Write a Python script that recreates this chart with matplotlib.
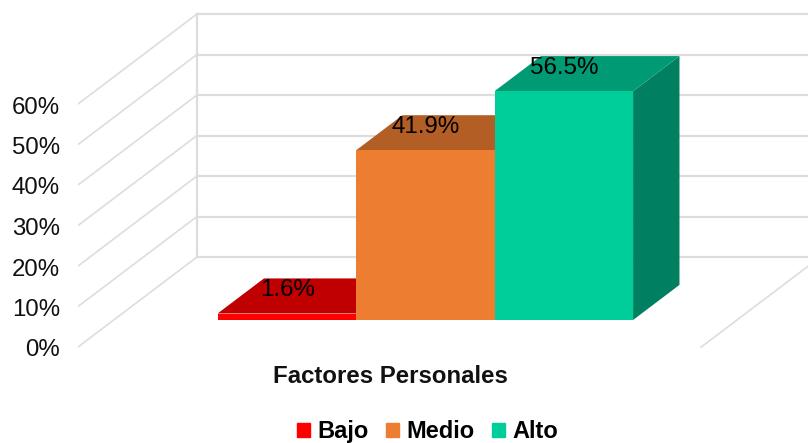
import matplotlib
matplotlib.use('Agg')
import matplotlib.pyplot as plt
import matplotlib.ticker as mticker
from matplotlib.patches import Patch
from matplotlib.transforms import ScaledTranslation

plt.rcParams['font.family'] = ['Liberation Sans', 'DejaVu Sans']

categories = ['Bajo', 'Medio', 'Alto']
values = [1.6, 41.9, 56.5]
ticks = [0, 10, 20, 30, 40, 50, 60]
xlabel = 'Factores Personales'

front_colors = ['#FF0000', '#ED7D31', '#00CE9A']
top_colors = ['#C00000', '#B35E25', '#009B74']
side_colors = ['#A00000', '#9A5220', '#008060']
grid_color = '#DDDDDD'

W, H = 808, 443
fig = plt.figure(figsize=(W / 100, H / 100), dpi=100)
ax = fig.add_axes([78 / W, 0, (W - 78) / W, 1])

# Escala: una categoria = 138.5 px, 1% = 4.05 px
ax.set_xlim(-0.75, -0.75 + (W - 78) / 138.5)
ax.set_ylim(-(H - 347) / 4.05, 347 / 4.05)

# Profundidad oblicua del "3D"
depth_x = 119 / 138.5
depth_y = 90 / 4.05
bar_front = 0.30
bar_back = 0.69


def proj(x, v, d):
    return x + d * depth_x, v + d * depth_y


# Paredes
x_left, x_right = -0.75, 3.75
for t in ticks:
    a = proj(x_left, t, 0)
    b = proj(x_left, t, 1)
    c = proj(x_right, t, 1)
    ax.plot([a[0], b[0]], [a[1], b[1]], color=grid_color, lw=1.2, zorder=1)
    ax.plot([b[0], c[0]], [b[1], c[1]], color=grid_color, lw=1.6, zorder=1)
a = proj(x_left, 0, 1)
b = proj(x_left, ticks[-1], 1)
ax.plot([a[0], b[0]], [a[1], b[1]], color=grid_color, lw=1.6, zorder=1)
a = proj(x_right, 0, 0)
b = proj(x_right, 0, 1)
ax.plot([a[0], b[0]], [a[1], b[1]], color=grid_color, lw=1.2, zorder=1)

# Barras
for i, v in enumerate(values):
    f0 = proj(i, 0, bar_front)
    f1 = proj(i + 1, 0, bar_front)
    f2 = proj(i + 1, v, bar_front)
    f3 = proj(i, v, bar_front)
    b1 = proj(i + 1, 0, bar_back)
    b2 = proj(i + 1, v, bar_back)
    b3 = proj(i, v, bar_back)
    z = 2 + i
    ax.fill([f1[0], b1[0], b2[0], f2[0]], [f1[1], b1[1], b2[1], f2[1]], color=side_colors[i], lw=0, zorder=z)
    ax.fill([f3[0], f2[0], b2[0], b3[0]], [f3[1], f2[1], b2[1], b3[1]], color=top_colors[i], lw=0, zorder=z)
    ax.fill([f0[0], f1[0], f2[0], f3[0]], [f0[1], f1[1], f2[1], f3[1]], color=front_colors[i], lw=0, zorder=z)

# Etiquetas encima de todo
for i, v in enumerate(values):
    p = proj(i + 0.5, v, bar_front)
    ax.annotate(f'{v:.1f}%', p, xytext=(0.3, 16.6), textcoords='offset points',
                ha='center', va='center', fontsize=17.4, color='black', zorder=10)

ax.set_yticks(ticks)
ax.yaxis.set_major_formatter(mticker.PercentFormatter(decimals=0))
ax.tick_params(axis='y', length=0, pad=13, labelsize=17.3, labelcolor='#111111')
ax.set_xticks([])
for s in ax.spines.values():
    s.set_visible(False)
for lab in ax.get_yticklabels():
    lab.set_transform(lab.get_transform() + ScaledTranslation(0, -1 / 100, fig.dpi_scale_trans))

ax.text(1.507, 1 - 376.5 / H, xlabel, transform=ax.get_xaxis_transform(),
        ha='center', va='center', fontsize=17.3, fontweight='bold', color='#111111')

handles = [Patch(color=c, label=n) for c, n in zip(front_colors, categories)]
fig.legend(handles=handles, loc='center', bbox_to_anchor=(427.5 / W, 1 - 431.5 / H), ncols=3,
           frameon=False, handlelength=0.55, handleheight=0.55, handletextpad=0.3,
           columnspacing=0.75, borderpad=0, borderaxespad=0,
           prop={'size': 17, 'weight': 'bold'})

fig.savefig('out.png', dpi=100)
